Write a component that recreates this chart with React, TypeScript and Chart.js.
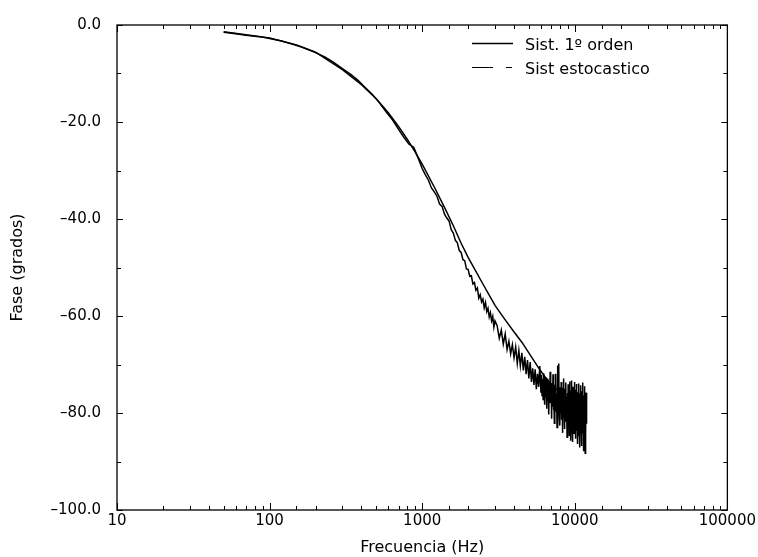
import React, { useEffect, useRef } from 'react';
import { Chart, registerables } from 'chart.js';

Chart.register(...registerables);

const FONT = '"DejaVu Sans", "Liberation Sans", sans-serif';

// Axis decades shown as labels
const xTickLabels = [10, 100, 1000, 10000, 100000];
const yMajorStep = 20;

// Series 1: first-order system (theoretical)
const smoothFreq = [50, 70, 100, 150, 200, 300, 400, 500, 600, 700, 800, 900, 1000, 1200, 1400, 1600, 1800, 2000, 2500, 3000, 3500, 4000, 4500, 5000, 5500, 6000, 6500, 7000, 7500, 8000, 9000, 10000, 11000, 12000];
const smoothPhase = [-1.4, -2.0, -2.7, -4.1, -5.6, -9.2, -12.3, -15.2, -18.1, -20.9, -23.6, -26.2, -28.7, -33.4, -37.6, -41.4, -45.0, -47.9, -53.4, -57.8, -60.8, -63.3, -65.4, -67.6, -69.6, -71.4, -72.9, -74.0, -74.9, -75.8, -77.2, -78.4, -79.3, -80.0];

// Series 2: stochastic system (measured), in segments
const stochFreqLow = [50, 60, 70, 80, 90, 100, 120, 140, 160, 180, 200, 230, 260, 300, 340, 380, 420, 470, 520, 580, 640, 700, 760, 820, 880, 940, 1000];
const stochPhaseLow = [-1.5, -1.8, -2.1, -2.3, -2.5, -2.8, -3.3, -3.9, -4.5, -5.1, -5.7, -6.6, -7.6, -9.0, -10.2, -11.4, -12.8, -14.3, -15.9, -17.9, -19.6, -21.5, -23.2, -24.6, -25.2, -27.4, -29.6];

const stochFreqMid = [1050, 1100, 1150, 1200, 1250, 1300, 1350, 1400, 1450, 1500, 1550, 1600, 1650, 1700, 1750, 1800, 1850, 1900, 1950, 2000, 2050, 2100, 2150, 2200, 2250, 2300, 2350, 2400, 2450, 2500, 2550, 2600, 2650, 2700, 2750, 2800, 2850, 2900, 2950, 3000];
const stochPhaseMid = [
  -30.9, -32.0, -33.6, -34.4, -35.3, -36.9, -37.4, -39.0, -39.8, -40.4,
  -42.2, -42.9, -44.4, -44.9, -46.5, -46.9, -48.4, -48.6, -50.3, -50.4,
  -51.8, -51.7, -53.4, -53.1, -54.7, -54.2, -56.3, -55.6, -57.1, -56.5,
  -58.3, -57.2, -59.1, -58.4, -60.2, -59.3, -61.0, -60.1, -62.3, -61.0,
];

const stochFreqHigh = [3100, 3200, 3300, 3400, 3500, 3600, 3700, 3800, 3900, 4000, 4100, 4200, 4300, 4400, 4500, 4600, 4700, 4800, 4900, 5000, 5100, 5200, 5300, 5400, 5500, 5600, 5700, 5800, 5900, 6000];
const stochPhaseHigh = [
  -62.0, -64.6, -62.9, -65.8, -63.7, -66.9, -65.2, -67.8, -65.9, -68.6,
  -66.4, -69.8, -67.1, -70.3, -67.6, -71.2, -68.4, -72.0, -69.1, -72.9,
  -69.5, -73.6, -70.8, -74.2, -71.0, -75.1, -71.9, -74.6, -70.3, -75.8,
];

const stochFreqTop = [
  6050, 6100, 6150, 6200, 6250, 6300, 6350, 6400, 6450, 6500,
  6550, 6600, 6650, 6700, 6750, 6800, 6850, 6900, 6950, 7000,
  7050, 7100, 7150, 7200, 7250, 7300, 7350, 7400, 7450, 7500,
  7550, 7600, 7650, 7700, 7750, 7800, 7850, 7900, 7950, 8000,
  8050, 8100, 8150, 8200, 8250, 8300, 8350, 8400, 8450, 8500,
  8550, 8600, 8650, 8700, 8750, 8800, 8850, 8900, 8950, 9000,
  9050, 9100, 9150, 9200, 9250, 9300, 9350, 9400, 9450, 9500,
  9550, 9600, 9650, 9700, 9750, 9800, 9850, 9900, 9950, 10000,
  10050, 10100, 10150, 10200, 10250, 10300, 10350, 10400, 10450, 10500,
  10550, 10600, 10650, 10700, 10750, 10800, 10850, 10900, 10950, 11000,
  11050, 11100, 11150, 11200, 11250, 11300, 11350, 11400, 11450, 11500,
  11550, 11600, 11650, 11700, 11750, 11800, 11850, 11900, 11950, 12000,
];
const stochPhaseTop = [
  -72.1, -76.4, -73.0, -77.2, -71.8, -75.9, -78.3, -72.6, -76.8, -74.0,
  -79.1, -72.9, -77.5, -75.2, -80.3, -73.4, -78.0, -71.5, -77.9, -74.6,
  -81.2, -73.8, -78.7, -72.0, -79.4, -75.5, -82.1, -74.2, -79.6, -71.9,
  -78.3, -76.0, -83.0, -73.1, -70.2, -78.8, -69.8, -80.5, -74.7, -82.6,
  -75.3, -79.9, -73.6, -81.4, -76.2, -84.1, -74.8, -80.7, -72.9, -79.5,
  -76.6, -83.3, -75.0, -81.8, -73.7, -80.2, -77.4, -85.0, -75.9, -82.4,
  -74.1, -79.8, -76.9, -84.6, -73.5, -81.0, -77.8, -85.7, -75.4, -80.9,
  -73.3, -82.8, -78.1, -86.0, -74.6, -81.5, -76.3, -84.2, -73.6, -80.7,
  -77.5, -85.3, -75.2, -82.0, -74.0, -83.7, -78.9, -86.4, -75.7, -81.3,
  -77.0, -84.8, -73.9, -82.5, -79.4, -87.1, -76.0, -83.2, -74.3, -81.9,
  -78.2, -86.8, -75.5, -84.0, -73.7, -82.7, -79.0, -87.9, -76.4, -85.1,
  -74.5, -83.6, -80.1, -88.3, -77.2, -84.4, -75.8, -82.2, -79.6, -81.8,
];

const seriesLabels = ['Sist. 1º orden', 'Sist estocastico'];

const toPoints = (fs: number[], vs: number[]) => fs.map((f, i) => ({ x: f, y: vs[i] }));

const isDecade = (v: number) => xTickLabels.includes(v);

const fmtY = (v: number) => (v === 0 ? '0.0' : (v < 0 ? '\u2013' : '') + Math.abs(v).toFixed(1));

const framePlugin = {
  id: 'frameTicksLegend',
  afterDatasetsDraw(chart: any) {
    const { ctx, chartArea: a, scales } = chart;
    const xs = scales.x;
    const ys = scales.y;
    ctx.save();
    ctx.strokeStyle = '#000';
    ctx.lineWidth = 1.3;
    ctx.strokeRect(a.left, a.top, a.right - a.left, a.bottom - a.top);

    ctx.lineWidth = 1;
    ctx.beginPath();
    xs.ticks.forEach((t: any) => {
      const px = Math.round(xs.getPixelForValue(t.value)) + 0.5;
      const len = isDecade(t.value) ? 7 : 4;
      ctx.moveTo(px, a.bottom);
      ctx.lineTo(px, a.bottom - len);
      ctx.moveTo(px, a.top);
      ctx.lineTo(px, a.top + len);
    });
    ys.ticks.forEach((t: any) => {
      const py = Math.round(ys.getPixelForValue(t.value)) + 0.5;
      const len = t.value % yMajorStep === 0 ? 6 : 4;
      ctx.moveTo(a.left, py);
      ctx.lineTo(a.left + len, py);
      ctx.moveTo(a.right, py);
      ctx.lineTo(a.right - len, py);
    });
    ctx.stroke();

    // Legend
    const lx0 = 472;
    const lx1 = 513;
    const tx = 525;
    const rows = [43.5, 67.5];
    ctx.lineWidth = 1.5;
    ctx.beginPath();
    ctx.moveTo(lx0, rows[0]);
    ctx.lineTo(lx1, rows[0]);
    ctx.stroke();
    ctx.lineWidth = 1.2;
    ctx.beginPath();
    ctx.moveTo(lx0, rows[1]);
    ctx.lineTo(493, rows[1]);
    ctx.moveTo(506, rows[1]);
    ctx.lineTo(512, rows[1]);
    ctx.stroke();

    ctx.fillStyle = '#000';
    ctx.font = `16px ${FONT}`;
    ctx.textBaseline = 'alphabetic';
    ctx.textAlign = 'left';
    ctx.fillText(chart.data.datasets[0].label, tx, rows[0] + 6);
    ctx.fillText(chart.data.datasets[1].label, tx, rows[1] + 6);
    ctx.restore();
  },
};

export default function App() {
  const canvasRef = useRef<HTMLCanvasElement | null>(null);

  useEffect(() => {
    const canvas = canvasRef.current;
    if (!canvas) return;
    const stochFreq = [...stochFreqLow, ...stochFreqMid, ...stochFreqHigh, ...stochFreqTop];
    const stochPhase = [...stochPhaseLow, ...stochPhaseMid, ...stochPhaseHigh, ...stochPhaseTop];

    const chart = new Chart(canvas, {
      type: 'line',
      data: {
        datasets: [
          {
            label: seriesLabels[0],
            data: toPoints(smoothFreq, smoothPhase),
            borderColor: '#000',
            borderWidth: 1.5,
            pointRadius: 0,
            tension: 0,
            fill: false,
          },
          {
            label: seriesLabels[1],
            data: toPoints(stochFreq, stochPhase),
            borderColor: '#000',
            borderWidth: 1.5,
            pointRadius: 0,
            tension: 0,
            fill: false,
          },
        ],
      },
      options: {
        responsive: false,
        animation: false,
        devicePixelRatio: 1,
        layout: { padding: { top: 12, right: 29, bottom: 0, left: 0 } },
        plugins: {
          legend: { display: false },
          tooltip: { enabled: false },
        },
        scales: {
          x: {
            type: 'logarithmic',
            min: 10,
            max: 100000,
            grid: { display: false, drawTicks: false },
            border: { display: false },
            ticks: {
              autoSkip: false,
              maxRotation: 0,
              minRotation: 0,
              padding: 2,
              color: '#000',
              font: { family: FONT, size: 15 },
              callback: (v: any) => (isDecade(Number(v)) ? String(v) : ''),
            },
            title: {
              display: true,
              text: 'Frecuencia (Hz)',
              color: '#000',
              font: { family: FONT, size: 16 },
              padding: { top: 0, bottom: 0 },
            },
            afterFit: (scale: any) => {
              scale.height = 47;
            },
          },
          y: {
            type: 'linear',
            min: -100,
            max: 0,
            grid: { display: false, drawTicks: false },
            border: { display: false },
            ticks: {
              stepSize: 10,
              autoSkip: false,
              padding: 16,
              color: '#000',
              font: { family: FONT, size: 15 },
              callback: (v: any) => (Number(v) % yMajorStep === 0 ? fmtY(Number(v)) : ''),
            },
            title: {
              display: true,
              text: 'Fase (grados)',
              color: '#000',
              font: { family: FONT, size: 16 },
              padding: { top: 8, bottom: 0 },
            },
            afterFit: (scale: any) => {
              scale.width = 117;
            },
          },
        },
      },
      plugins: [framePlugin],
    });

    return () => chart.destroy();
  }, []);

  return (
    <div style={{ position: 'fixed', left: 0, top: 0, width: 758, height: 557, background: '#fff' }}>
      <canvas ref={canvasRef} width={758} height={557} style={{ width: 758, height: 557, display: 'block' }} />
    </div>
  );
}
